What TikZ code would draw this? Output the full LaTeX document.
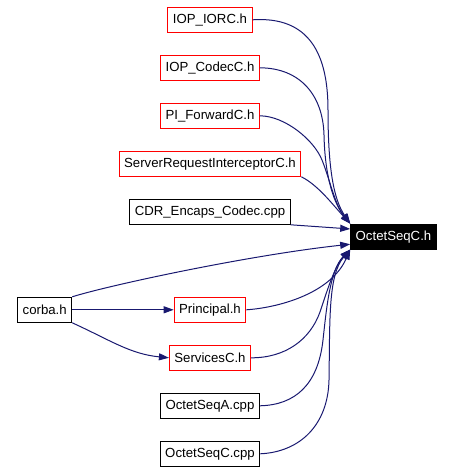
\documentclass[tikz,border=0pt]{standalone}
\usepackage{fontspec}
\setmainfont{Liberation Sans}
\usetikzlibrary{arrows.meta}
\definecolor{edgeblue}{HTML}{191970}

\begin{document}
\begin{tikzpicture}[->,>={Triangle[length=10pt,width=7pt]},x=1pt,y=1pt,node distance=48pt,
		line width=1pt,
		file node/.style={rectangle,draw=black,font=\fontsize{13.2}{15}\selectfont,inner xsep=5pt,inner ysep=0pt,minimum height=25pt},
		red node/.style={file node,draw=red},
		root node/.style={file node,fill=black,text=white},
		link/.style={color=edgeblue}]
		
		\useasboundingbox (0,0) rectangle (454,472);
		
		\node[red node] (1) at (210,452.2) {IOP\_IORC.h};
		\node[red node] (2) [below of=1] {IOP\_CodecC.h};
		\node[red node] (3) [below of=2] {PI\_ForwardC.h};
		\node[red node] (4) [below of=3] {ServerRequestInterceptorC.h};
		\node[file node] (5) [below of=4] {CDR\_Encaps\_Codec.cpp};
		\node[red node] (6) [node distance=98pt, below of=5] {Principal.h};
		\node[red node] (7) [below of=6] {ServicesC.h};
		\node[file node] (8) [below of=7] {OctetSeqA.cpp};
		\node[file node] (9) [below of=8] {OctetSeqC.cpp};
		\node[file node] (10) [node distance=165.3pt, left of=6] {corba.h};
		\node[root node] (11) at (393.5,235.4) {OctetSeqC.h};
		
		% includes of OctetSeqC.h
		\draw[link] (1.east) .. controls (310,456) and (328,417) .. (328,362) .. controls (328,302) and (334,272) .. (11.north west);
		\draw[link] (2.east) .. controls (300,404) and (323,377) .. (324,337) .. controls (325,292) and (335,267) .. (11.north west);
		\draw[link] (3.east) .. controls (285,356) and (314,332) .. (322,312) .. controls (330,292) and (335,267) .. (11.north west);
		\draw[link] (4.south east) .. controls (318,287) and (333,267) .. (11.north west);
		\draw[link] (5.south east) -- (11.170);
		\draw[link] (10.north east) .. controls (110,187) and (250,217) .. (11.190);
		\draw[link] (6.east) .. controls (275,164) and (330,177) .. (11.south west);
		\draw[link] (7.east) .. controls (285,114) and (310,132) .. (320,160) .. controls (326,178) and (335,207) .. (11.south west);
		\draw[link] (8.east) .. controls (295,67) and (318,87) .. (323,132) .. controls (326.5,164) and (330,202) .. (11.south west);
		\draw[link] (9.east) .. controls (300,20) and (328,47) .. (329,92) .. controls (330,152) and (328,197) .. (11.south west);
		
		% corba.h
		\path[link] (10) edge (6);
		\draw[link] (10.south east) .. controls (110,132) and (130,118) .. (7.west);
		\end{tikzpicture}
\end{document}
